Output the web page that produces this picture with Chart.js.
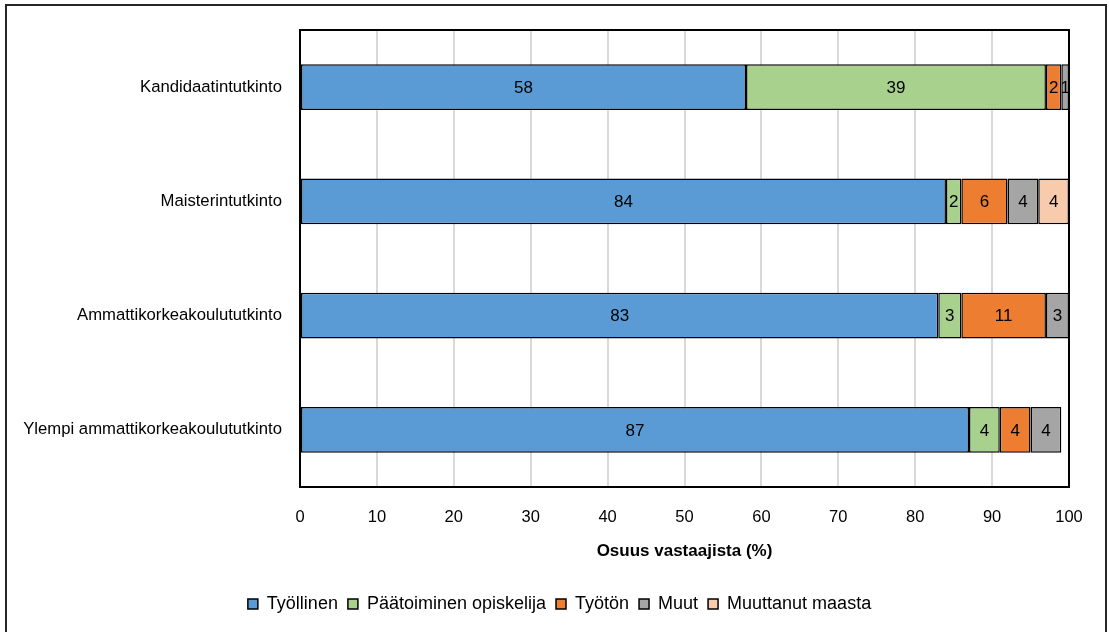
<!DOCTYPE html>
<html lang="fi">
<head>
<meta charset="utf-8">
<title>Osuus vastaajista</title>
<script src="https://cdn.jsdelivr.net/npm/chart.js@4.4.1/dist/chart.umd.min.js"></script>
<style>
  html, body { margin: 0; padding: 0; background: #ffffff; }
  #wrap { position: relative; width: 1109px; height: 632px; }
</style>
</head>
<body>
<div id="wrap"><canvas id="chart" width="1109" height="632"></canvas></div>
<script>
// Tutkinnot (categories, top to bottom)
const categories = [
  'Kandidaatintutkinto',
  'Maisterintutkinto',
  'Ammattikorkeakoulututkinto',
  'Ylempi ammattikorkeakoulututkinto'
];

// Series values (% of respondents)
const tyollinen   = [58, 84, 83, 87];
const opiskelija  = [39, 2, 3, 4];
const tyoton      = [2, 6, 11, 4];
const muut        = [1, 4, 3, 4];
const muuttanut   = [0, 4, 0, 0];

const seriesNames = ['Työllinen', 'Päätoiminen opiskelija', 'Työtön', 'Muut', 'Muuttanut maasta'];
const xTicks = [0, 10, 20, 30, 40, 50, 60, 70, 80, 90, 100];
const axisTitle = 'Osuus vastaajista (%)';

const FONT = '"Liberation Sans", Arial, sans-serif';
Chart.defaults.font.family = FONT;
Chart.defaults.font.size = 16;
Chart.defaults.color = '#000000';

const colors = ['#5B9BD5', '#A9D18E', '#ED7D31', '#A5A5A5', '#F8CBAD'];
const values = [tyollinen, opiskelija, tyoton, muut, muuttanut];

const datasets = values.map((v, i) => ({
  label: seriesNames[i],
  data: v,
  backgroundColor: colors[i],
  borderColor: '#000000',
  borderWidth: 1.5,
  borderSkipped: false,
  categoryPercentage: 0.4,
  barPercentage: 1.0
}));

// White background, outer frame, plot box, and legend centred under the plot
const framePlugin = {
  id: 'frame',
  afterLayout(chart) {
    const lg = chart.legend;
    if (lg) {
      const shift = 25;
      lg.left += shift;
      lg.right += shift;
    }
  },
  beforeDraw(chart) {
    const ctx = chart.ctx;
    ctx.save();
    ctx.fillStyle = '#ffffff';
    ctx.fillRect(0, 0, chart.width, chart.height);
    ctx.strokeStyle = '#262626';
    ctx.lineWidth = 2;
    ctx.strokeRect(6, 5, 1100, 660);
    ctx.restore();
  },
  afterDraw(chart) {
    const a = chart.chartArea;
    const ctx = chart.ctx;
    ctx.save();
    ctx.strokeStyle = '#000000';
    ctx.lineWidth = 2;
    ctx.strokeRect(a.left, a.top, a.right - a.left, a.bottom - a.top);
    ctx.restore();
  }
};

// Value labels centred on each bar segment
const valueLabels = {
  id: 'valueLabels',
  afterDatasetsDraw(chart) {
    const ctx = chart.ctx;
    ctx.save();
    ctx.font = '17px ' + FONT;
    ctx.fillStyle = '#000000';
    ctx.textAlign = 'center';
    ctx.textBaseline = 'middle';
    chart.data.datasets.forEach((ds, di) => {
      const meta = chart.getDatasetMeta(di);
      if (meta.hidden) return;
      meta.data.forEach((bar, i) => {
        const v = ds.data[i];
        if (!v) return;
        const p = bar.getProps(['x', 'y', 'base'], true);
        ctx.fillText(String(v), (p.x + p.base) / 2, p.y + 1);
      });
    });
    ctx.restore();
  }
};

new Chart(document.getElementById('chart'), {
  type: 'bar',
  data: { labels: categories, datasets },
  plugins: [framePlugin, valueLabels],
  options: {
    indexAxis: 'y',
    responsive: false,
    animation: false,
    layout: { padding: { top: 30, right: 40, bottom: 9, left: 0 } },
    scales: {
      x: {
        stacked: true,
        min: 0,
        max: 100,
        afterBuildTicks(scale) {
          scale.ticks = xTicks.map(v => ({ value: v }));
        },
        afterFit(scale) { scale.height = 98; },
        grid: { color: '#d9d9d9', lineWidth: 2, drawTicks: false },
        border: { display: true, color: '#000000', width: 2 },
        ticks: { padding: 21, font: { size: 16.5 }, color: '#000000' },
        title: {
          display: true,
          text: axisTitle,
          font: { size: 17, weight: 'bold' },
          color: '#000000',
          padding: { top: 0, bottom: 23 }
        }
      },
      y: {
        stacked: true,
        afterFit(scale) { scale.width = 300; },
        grid: { display: false, drawTicks: false },
        border: { display: true, color: '#000000', width: 2 },
        ticks: { padding: 18, font: { size: 16.7 }, color: '#000000' }
      }
    },
    plugins: {
      legend: {
        position: 'bottom',
        labels: {
          boxWidth: 10,
          boxHeight: 10,
          padding: 10,
          font: { size: 18 },
          color: '#000000'
        }
      },
      tooltip: { enabled: false }
    }
  }
});
</script>
</body>
</html>
